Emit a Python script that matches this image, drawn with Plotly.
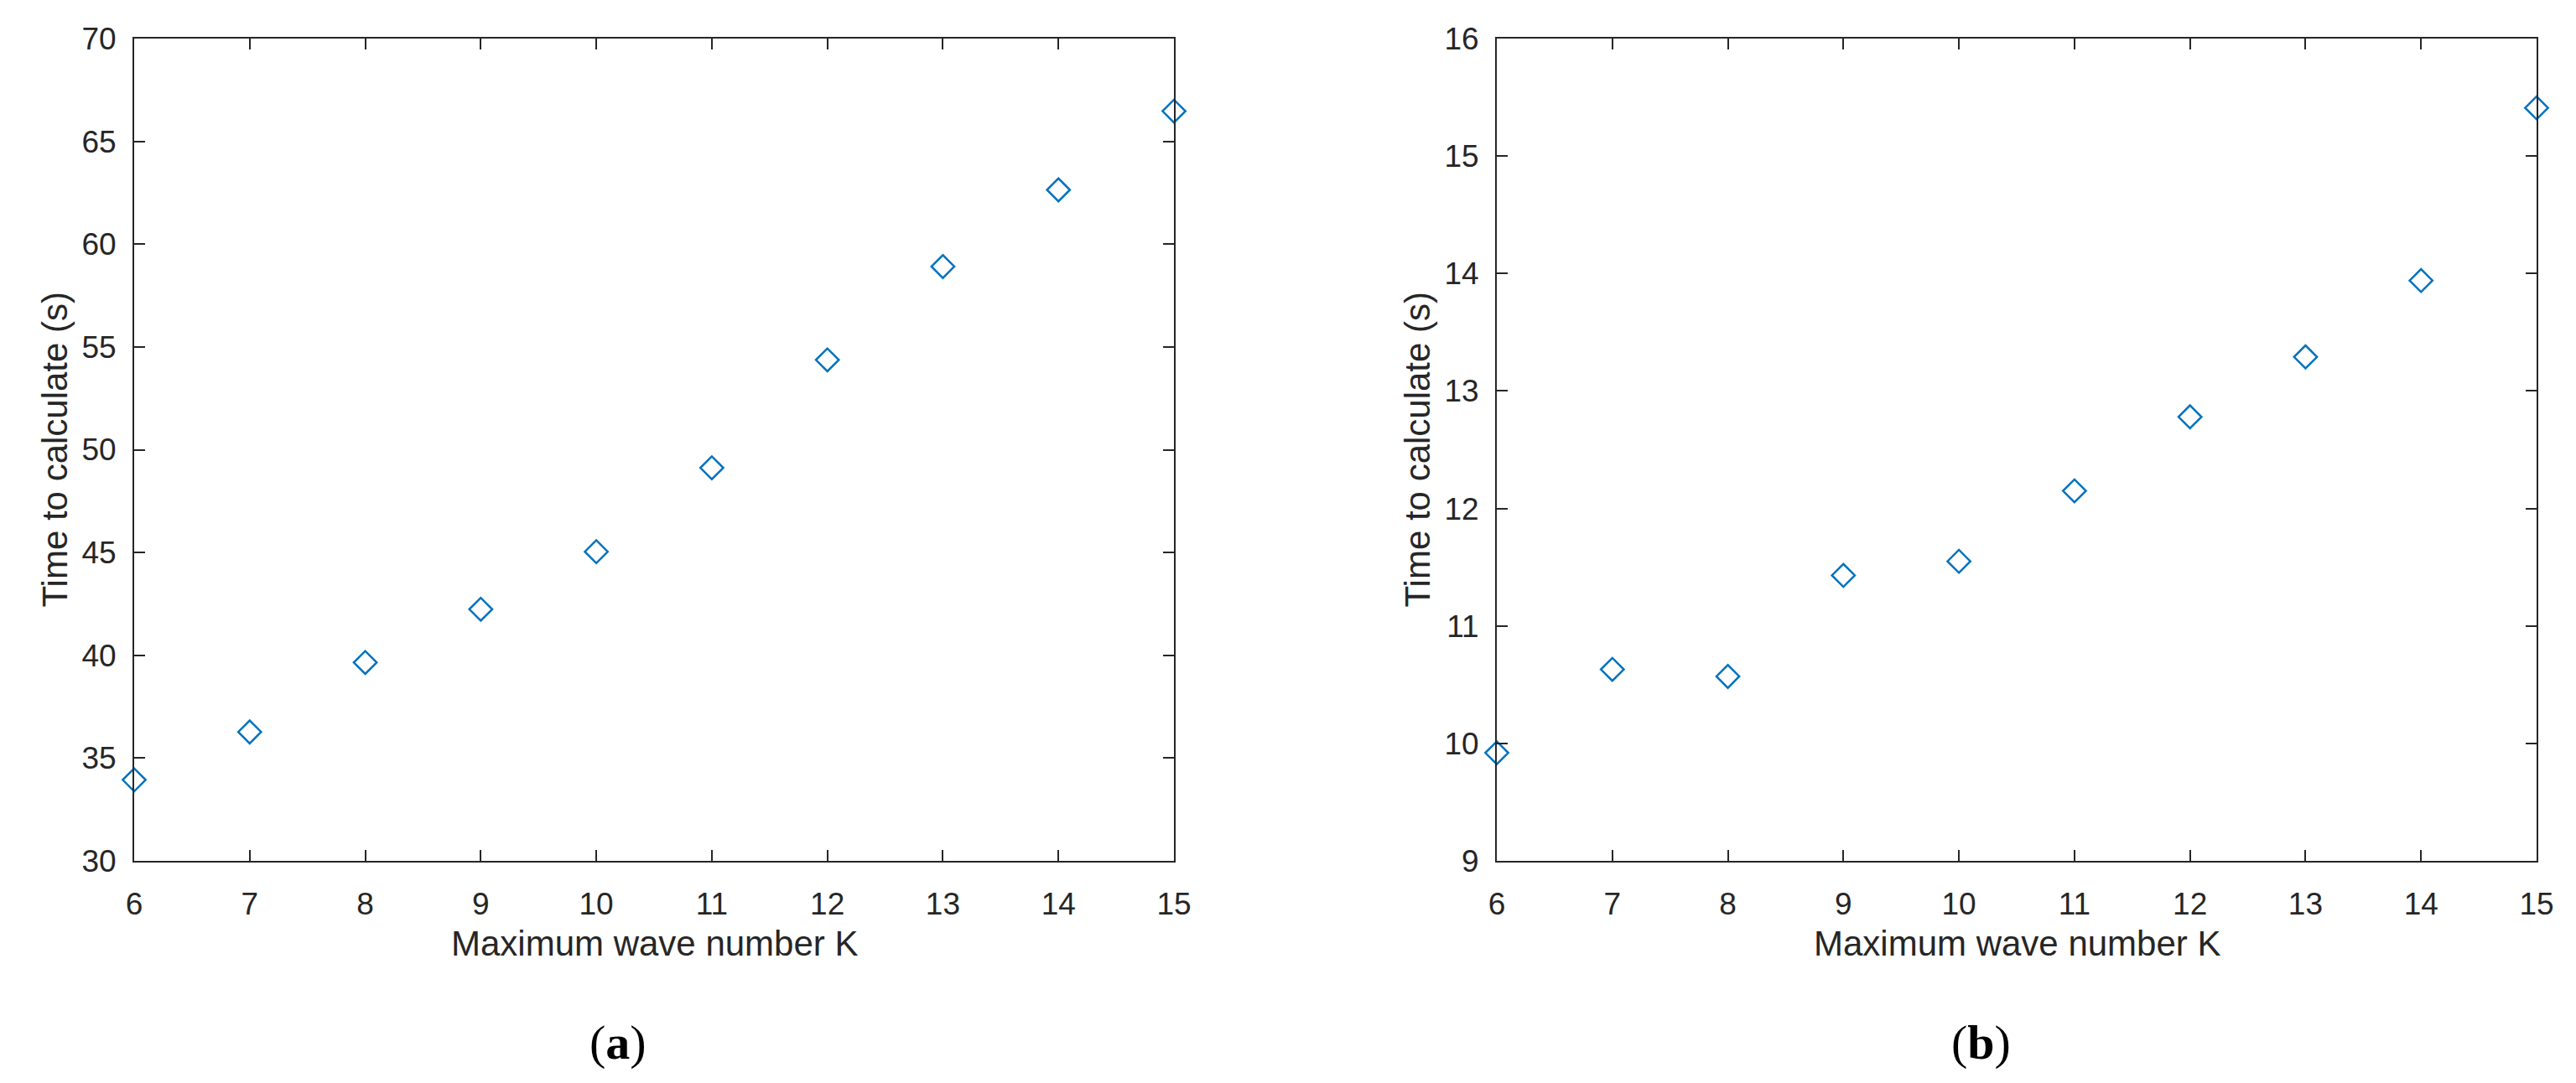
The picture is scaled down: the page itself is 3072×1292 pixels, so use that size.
import plotly.graph_objects as go

# Data
K = [6, 7, 8, 9, 10, 11, 12, 13, 14, 15]
time_a = [33.94, 36.27, 39.65, 42.24, 45.04, 49.12, 54.37, 58.91, 62.64, 66.47]
time_b = [9.92, 10.63, 10.57, 11.43, 11.55, 12.15, 12.78, 13.29, 13.94, 15.41]

x_ticks = [6, 7, 8, 9, 10, 11, 12, 13, 14, 15]
y_ticks_a = [30, 35, 40, 45, 50, 55, 60, 65, 70]
y_ticks_b = [9, 10, 11, 12, 13, 14, 15, 16]

x_title = "Maximum wave number K"
y_title = "Time to calculate (s)"
panel_labels = ["(<b>a</b>)", "(<b>b</b>)"]

W, H = 3072, 1292
AX_COLOR = "#262626"
MARKER_COLOR = "#0072BD"
FONT = "Liberation Sans, Arial, sans-serif"

fig = go.Figure()

marker = dict(symbol="diamond-open", size=21, color=MARKER_COLOR,
              line=dict(width=2.5, color=MARKER_COLOR))

fig.add_trace(go.Scatter(x=K, y=time_a, mode="markers", marker=marker,
                         cliponaxis=False, showlegend=False, xaxis="x", yaxis="y"))
fig.add_trace(go.Scatter(x=K, y=time_b, mode="markers", marker=marker,
                         cliponaxis=False, showlegend=False, xaxis="x2", yaxis="y2"))

# geometry (pixels)
ax_a = (160, 1400)
ax_b = (1785, 3025)
top_px, bot_px = 46, 1027
ydom = [(H - bot_px) / H, (H - top_px) / H]

common_axis = dict(showline=True, linecolor=AX_COLOR, linewidth=2,
                   mirror="ticks", ticks="inside", ticklen=13, tickwidth=2,
                   tickcolor=AX_COLOR, showgrid=False, zeroline=False,
                   automargin=False,
                   tickfont=dict(family=FONT, size=37, color=AX_COLOR))

fig.update_layout(
    width=W, height=H,
    margin=dict(l=0, r=0, t=0, b=0, autoexpand=False),
    paper_bgcolor="white", plot_bgcolor="white",
    xaxis=dict(domain=[ax_a[0] / W, ax_a[1] / W], range=[6, 15], tickvals=x_ticks,
               anchor="y", ticklabelstandoff=18, **common_axis),
    yaxis=dict(domain=ydom, range=[30, 70], tickvals=y_ticks_a, anchor="x",
               ticklabelstandoff=12, **common_axis),
    xaxis2=dict(domain=[ax_b[0] / W, ax_b[1] / W], range=[6, 15], tickvals=x_ticks,
                anchor="y2", ticklabelstandoff=18, **common_axis),
    yaxis2=dict(domain=ydom, range=[9, 16], tickvals=y_ticks_b, anchor="x2",
                ticklabelstandoff=12, **common_axis),
)

annotations = []
for (x0, x1), lab in zip([ax_a, ax_b], panel_labels):
    cx = (x0 + x1) / 2
    annotations.append(dict(text=x_title, x=cx / W, y=(H - 1125) / H, xref="paper", yref="paper",
                            xanchor="center", yanchor="middle", showarrow=False,
                            font=dict(family=FONT, size=42, color=AX_COLOR)))
    annotations.append(dict(text=y_title, x=(x0 - 95) / W, y=(H - (top_px + bot_px) / 2) / H,
                            xref="paper", yref="paper", textangle=-90,
                            xanchor="center", yanchor="middle", showarrow=False,
                            font=dict(family=FONT, size=42, color=AX_COLOR)))
    annotations.append(dict(text=lab, x=(cx - 43) / W, y=(H - 1243) / H, xref="paper", yref="paper",
                            xanchor="center", yanchor="middle", showarrow=False,
                            font=dict(family="Liberation Serif, Times New Roman, serif", size=58,
                                      color="black")))
fig.update_layout(annotations=annotations)

fig.write_html("out.html",
               config={"displayModeBar": False},
               post_script="document.body.style.margin='0';document.body.style.overflow='hidden';")
